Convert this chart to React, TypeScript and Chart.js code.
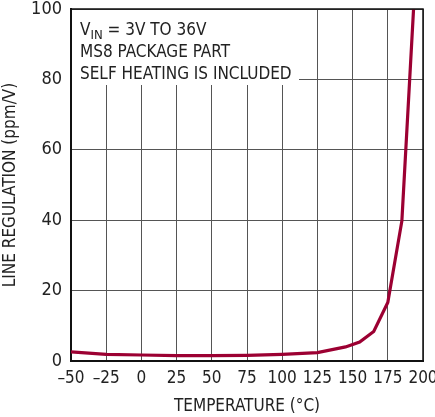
import React, { useEffect, useRef } from "react";
import { Chart, registerables } from "chart.js";
Chart.register(...registerables);

const temps = [-50, -25, 0, 25, 50, 75, 100, 125, 145, 155, 165, 175, 185, 193.3];
const lineReg = [2.6, 1.9, 1.7, 1.5, 1.5, 1.6, 1.9, 2.4, 4.0, 5.4, 8.4, 16.6, 39.8, 100];
const xTicks = [-50, -25, 0, 25, 50, 75, 100, 125, 150, 175, 200];
const yTicks = [0, 20, 40, 60, 80, 100];
const noteLines = ["MS8 PACKAGE PART", "SELF HEATING IS INCLUDED"];

const FONT = "'Liberation Sans Narrow', 'Arial Narrow', 'DejaVu Sans Condensed', sans-serif";

const annotationPlugin = {
  id: "notes",
  beforeDatasetsDraw(chart: any) {
    const { ctx, chartArea } = chart;
    ctx.save();
    ctx.fillStyle = "#ffffff";
    ctx.fillRect(chartArea.left + 1, chartArea.top + 1, 227, 75);
    ctx.fillStyle = "#222";
    ctx.textBaseline = "alphabetic";
    ctx.font = `17px ${FONT}`;
    const x = chartArea.left + 9;
    ctx.fillText("V", x, chartArea.top + 26);
    const vw = ctx.measureText("V").width;
    ctx.font = `13px ${FONT}`;
    ctx.fillText("IN", x + vw, chartArea.top + 30);
    const iw = ctx.measureText("IN").width;
    ctx.font = `17px ${FONT}`;
    ctx.fillText(" = 3V TO 36V", x + vw + iw, chartArea.top + 26);
    noteLines.forEach((t, i) => {
      ctx.fillText(t, x, chartArea.top + 48 + i * 22);
    });
    ctx.restore();
  },
};

export default function App() {
  const ref = useRef<HTMLCanvasElement>(null);
  useEffect(() => {
    document.body.style.margin = "0";
    const chart = new Chart(ref.current!, {
      type: "line",
      data: {
        datasets: [
          {
            data: temps.map((t, i) => ({ x: t, y: lineReg[i] })),
            borderColor: "#9c0032",
            borderWidth: 3.2,
            pointRadius: 0,
            tension: 0,
            fill: false,
          },
        ],
      },
      options: {
        animation: false,
        responsive: false,
        maintainAspectRatio: false,
        layout: { padding: { top: 9, right: 12, left: 0, bottom: 0 } },
        plugins: { legend: { display: false }, tooltip: { enabled: false } },
        scales: {
          x: {
            type: "linear",
            min: -50,
            max: 200,
            afterBuildTicks: (s: any) => {
              s.ticks = xTicks.map((v) => ({ value: v }));
            },
            afterFit: (s: any) => {
              s.height = 56;
              s.paddingLeft = 0;
              s.paddingRight = 0;
            },
            grid: { color: "#555", lineWidth: 1, drawTicks: false },
            border: { color: "#111", width: 2 },
            ticks: {
              padding: 7,
              maxRotation: 0,
              autoSkip: false,
              color: "#222",
              font: { family: FONT, size: 17 },
              callback: (v: any) => String(v).replace("-", "–"),
            },
            title: {
              display: true,
              text: "TEMPERATURE (°C)",
              color: "#222",
              font: { family: FONT, size: 17 },
              padding: { top: 2, bottom: 0 },
            },
          },
          y: {
            min: 0,
            max: 100,
            afterBuildTicks: (s: any) => {
              s.ticks = yTicks.map((v) => ({ value: v }));
            },
            afterFit: (s: any) => {
              s.width = 71;
              s.paddingTop = 0;
              s.paddingBottom = 0;
            },
            grid: { color: "#555", lineWidth: 1, drawTicks: false },
            border: { color: "#111", width: 2 },
            ticks: {
              padding: 9,
              color: "#222",
              font: { family: FONT, size: 18 },
            },
            title: {
              display: true,
              text: "LINE REGULATION (ppm/V)",
              color: "#222",
              font: { family: FONT, size: 17 },
              padding: { top: 0, bottom: 2 },
            },
          },
        },
      },
      plugins: [
        annotationPlugin,
        {
          id: "frame",
          afterDraw(chart: any) {
            const { ctx, chartArea } = chart;
            ctx.save();
            ctx.strokeStyle = "#111";
            ctx.lineWidth = 1.5;
            ctx.beginPath();
            ctx.moveTo(chartArea.left, chartArea.top);
            ctx.lineTo(chartArea.right, chartArea.top);
            ctx.lineTo(chartArea.right, chartArea.bottom);
            ctx.stroke();
            ctx.restore();
          },
        },
      ],
    } as any);
    return () => chart.destroy();
  }, []);
  return (
    <div style={{ width: 435, height: 417 }}>
      <canvas ref={ref} width={435} height={417} style={{ width: 435, height: 417 }} />
    </div>
  );
}
